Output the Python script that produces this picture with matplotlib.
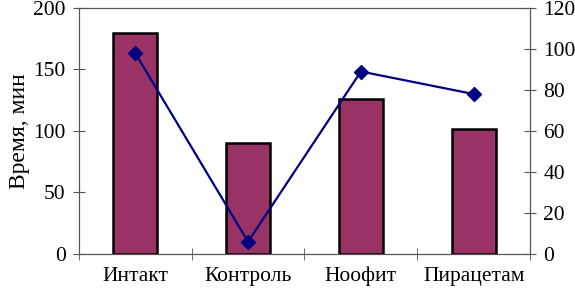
import matplotlib
matplotlib.use('Agg')
import matplotlib.pyplot as plt
import numpy as np

plt.rcParams['font.family'] = ['Liberation Serif', 'DejaVu Serif']

categories = ['Интакт', 'Контроль', 'Ноофит', 'Пирацетам']
time_min = [180, 90, 126, 102]
line_vals = [98, 6, 89, 78]

fig = plt.figure(figsize=(5.75, 2.94), dpi=100)
ax = fig.add_axes([0.137, 0.136, 0.785, 0.837])
x = np.arange(len(categories))

ax.bar(x, time_min, width=0.39, color='#993366', edgecolor='black', linewidth=1.8, zorder=2)
ax.set_xlim(-0.5, len(categories) - 0.5)
ax.set_ylim(0, 200)
ax.set_yticks([0, 50, 100, 150, 200])
ax.set_xticks(x)
ax.set_xticklabels(categories)
ax.set_xticks(np.arange(-0.5, len(categories), 1.0), minor=True)
ax.tick_params(axis='x', which='major', length=0, pad=9)
ax.tick_params(axis='x', which='minor', direction='inout', length=9, color='#555555')
ax.tick_params(axis='y', direction='inout', length=9, color='#555555', pad=5)
ax.tick_params(labelsize=15.5)
ax.set_ylabel('Время, мин', fontsize=17, labelpad=2)
for s in ax.spines.values():
    s.set_color('#555555')

ax2 = ax.twinx()
ax2.plot(x, line_vals, color='#000080', marker='D', markersize=7, linewidth=1.6, zorder=3)
ax2.set_ylim(0, 120)
ax2.set_yticks([0, 20, 40, 60, 80, 100, 120])
ax2.tick_params(axis='y', direction='inout', length=9, color='#555555', labelsize=15.5, pad=5)
for s in ax2.spines.values():
    s.set_color('#555555')

fig.savefig('out.png', dpi=100)
